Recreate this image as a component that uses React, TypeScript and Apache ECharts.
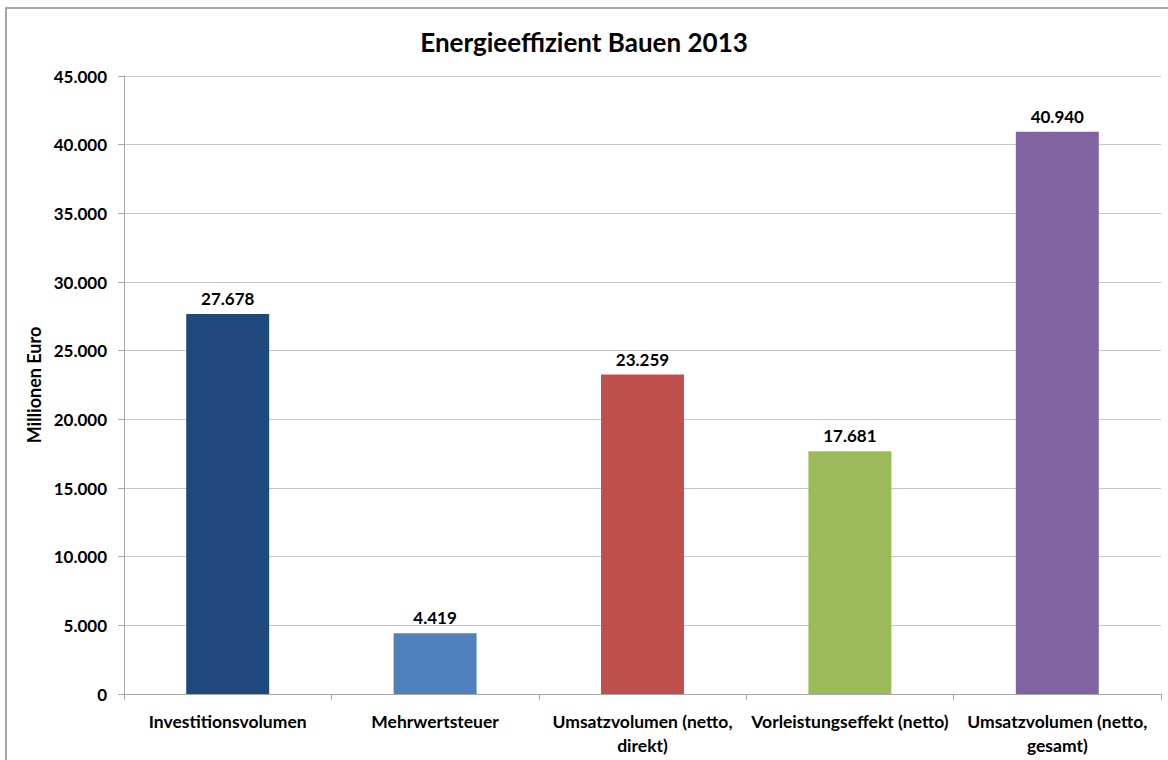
import React, { useEffect, useRef } from "react";
import * as echarts from "echarts";

const TITLE = "Energieeffizient Bauen 2013";
const Y_NAME = "Millionen Euro";
const categories = [
  "Investitionsvolumen",
  "Mehrwertsteuer",
  "Umsatzvolumen (netto,\ndirekt)",
  "Vorleistungseffekt (netto)",
  "Umsatzvolumen (netto,\ngesamt)",
];
const values = [27678, 4419, 23259, 17681, 40940];
const colors = ["#1F497D", "#4F81BD", "#C0504D", "#9BBB59", "#8064A2"];
const Y_MIN = 0;
const Y_MAX = 45000;
const Y_STEP = 5000;

function fmtDE(v: number): string {
  const s = Math.round(v).toString();
  return s.replace(/\B(?=(\d{3})+(?!\d))/g, ".");
}

const FONT = "Lato, 'Open Sans', sans-serif";

export default function App() {
  const ref = useRef<HTMLDivElement>(null);
  useEffect(() => {
    if (!ref.current) return;
    const chart = echarts.init(ref.current, undefined, { renderer: "svg" });
    chart.setOption({
      animation: false,
      backgroundColor: "#ffffff",
      title: {
        text: TITLE,
        left: "center",
        top: 24,
        textStyle: { fontFamily: FONT, fontSize: 26, fontWeight: "bold", color: "#000" },
      },
      graphic: [
        {
          type: "rect",
          shape: { x: 6, y: 8, width: 1200, height: 800 },
          style: { fill: "none", stroke: "#a6a6a6", lineWidth: 2 },
          silent: true,
        },
      ],
      grid: { left: 124, right: 7, top: 76, bottom: 66, containLabel: false },
      xAxis: {
        type: "category",
        data: categories,
        axisLine: { lineStyle: { color: "#a6a6a6", width: 1 } },
        axisTick: { show: true, alignWithLabel: false, length: 6, lineStyle: { color: "#a6a6a6" } },
        axisLabel: {
          interval: 0,
          margin: 15,
          fontFamily: FONT,
          fontSize: 17.5,
          fontWeight: "bold",
          color: "#000",
          lineHeight: 24,
        },
      },
      yAxis: {
        type: "value",
        min: Y_MIN,
        max: Y_MAX,
        interval: Y_STEP,
        name: Y_NAME,
        nameLocation: "middle",
        nameGap: 78,
        nameTextStyle: { fontFamily: FONT, fontSize: 18, fontWeight: "bold", color: "#000" },
        axisLine: { show: true, lineStyle: { color: "#a6a6a6", width: 1 } },
        axisTick: { show: true, length: 6, lineStyle: { color: "#a6a6a6" } },
        splitLine: { show: true, lineStyle: { color: "#c6c6c6", width: 1 } },
        axisLabel: {
          margin: 17,
          fontFamily: FONT,
          fontSize: 17,
          fontWeight: "bold",
          color: "#000",
          formatter: (v: number) => fmtDE(v),
        },
      },
      series: [
        {
          type: "bar",
          data: values.map((v, i) => ({ value: v, itemStyle: { color: colors[i] } })),
          barWidth: "40%",
          label: {
            show: true,
            position: "top",
            distance: 7,
            fontFamily: FONT,
            fontSize: 17,
            fontWeight: "bold",
            color: "#000",
            formatter: (p: any) => fmtDE(p.value),
          },
        },
      ],
    });
    return () => chart.dispose();
  }, []);
  return (
    <div
      ref={ref}
      style={{ position: "absolute", left: 0, top: 0, width: 1168, height: 760 }}
    />
  );
}
